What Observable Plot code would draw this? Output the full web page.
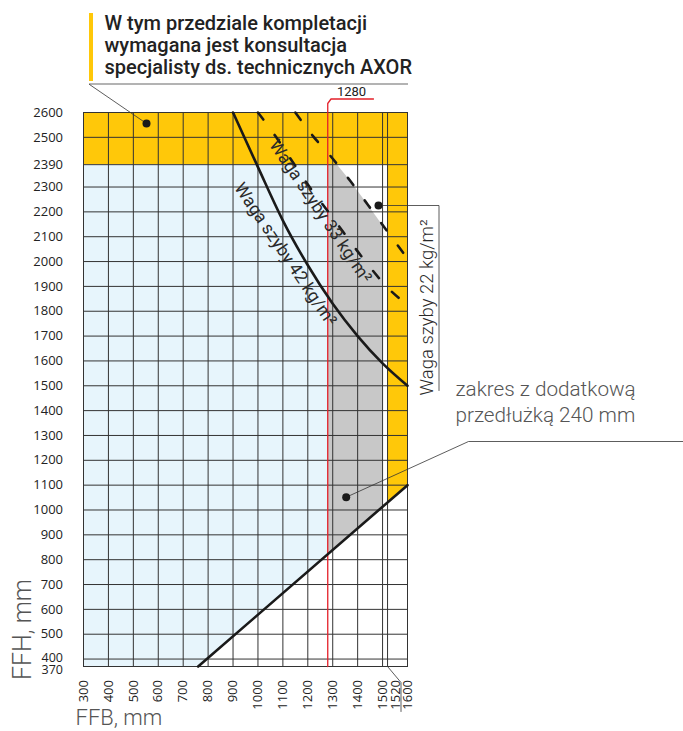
<!DOCTYPE html>
<html>
<head>
<meta charset="utf-8">
<script src="https://cdn.jsdelivr.net/npm/d3@7"></script>
<script src="https://cdn.jsdelivr.net/npm/@observablehq/plot@0.6"></script>
<style>
  body { margin: 0; background: #fff; }
  svg { overflow: visible; }
</style>
</head>
<body>
<div id="chart"></div>
<script>
// ---------- data ----------
const xDomain = [300, 1600];
const yDomain = [370, 2600];
const xTicks = [300, 400, 500, 600, 700, 800, 900, 1000, 1100, 1200, 1300, 1400, 1500, 1520, 1600];
const yTicks = [370, 400, 500, 600, 700, 800, 900, 1000, 1100, 1200, 1300, 1400, 1500, 1600, 1700, 1800, 1900, 2000, 2100, 2200, 2300, 2390, 2500, 2600];

const limitFFB = 1280;      // red line
const extFFB = 1520;        // start of right yellow column
const consultFFH = 2390;    // start of top yellow band

// solid curve, 42 kg/m2
const w42X = [900, 1000, 1100, 1200, 1300, 1400, 1500, 1600];
const w42Y = [2600, 2380, 2165, 1985, 1830, 1700, 1590, 1500];
// dashed curve, 33 kg/m2
const w33X = [1000, 1070, 1130, 1200, 1290, 1420, 1520, 1600];
const w33Y = [2600, 2505, 2415, 2310, 2190, 2015, 1895, 1825];
// dashed curve bounding the grey zone
const wBX = [1150, 1220, 1290, 1370, 1440, 1520, 1600];
const wBY = [2600, 2506, 2426, 2325, 2230, 2120, 2012];
// top edge of the grey zone
const grayTopX = [1280, 1318, 1370, 1440, 1500];
const grayTopY = [2390, 2390, 2325, 2230, 2146];
// straight lower limit line
const diagX = [760, 1600];
const diagY = [370, 1100];

const zip = (xs, ys) => xs.map((x, i) => ({x, y: ys[i]}));

// ---------- layout ----------
const W = 683, H = 731, mL = 83, mR = 276, mT = 112, mB = 65;
const sx = (W - mL - mR) / (xDomain[1] - xDomain[0]);
const sy = (H - mT - mB) / (yDomain[1] - yDomain[0]);
const px = p => xDomain[0] + (p - mL) / sx;       // pixel -> FFB (annotations only)
const py = p => yDomain[0] + (H - mB - p) / sy;   // pixel -> FFH (annotations only)

const YELLOW = "#ffc809", BLUE = "#e7f5fc", GRAY = "#c8c8c8", RED = "#e4202a", GRID = "#333";

const rects = [
  {x1: xDomain[0], x2: limitFFB, y1: yDomain[0], y2: consultFFH, fill: BLUE},
  {x1: xDomain[0], x2: xDomain[1], y1: consultFFH, y2: yDomain[1], fill: YELLOW},
  {x1: extFFB, x2: xDomain[1], y1: yDomain[0], y2: consultFFH, fill: YELLOW}
];

const redPath = [
  {x: limitFFB, y: yDomain[0]},
  {x: limitFFB, y: py(103)},
  {x: px(330.5), y: py(98.5)},
  {x: px(373), y: py(98.5)}
];

const titleLines = "W tym przedziale kompletacji\nwymagana jest konsultacja\nspecjalisty ds. technicznych AXOR";
const label22 = "Waga szyby 22 kg/m²";
const label33 = "Waga szyby 33 kg/m²";
const label42 = "Waga szyby 42 kg/m²";
const noteExt = "zakres z dodatkową\nprzedłużką 240 mm";

const xMain = xTicks.filter(d => d !== 1520);
const yMain = yTicks.filter(d => d !== 370 && d !== 400);

const chart = Plot.plot({
  width: W, height: H,
  marginLeft: mL, marginRight: mR, marginTop: mT, marginBottom: mB,
  x: {domain: xDomain, axis: null},
  y: {domain: yDomain, axis: null},
  style: {fontFamily: "'Open Sans', sans-serif", background: "#fff"},
  marks: [
    // zones
    Plot.rect(rects, {x1: "x1", x2: "x2", y1: "y1", y2: "y2", fill: "fill"}),
    Plot.areaY(zip(grayTopX, grayTopY), {x: "x", y1: yDomain[0], y2: "y", fill: GRAY}),
    Plot.areaY(zip(diagX, diagY), {x: "x", y1: yDomain[0], y2: "y", fill: "#fff"}),
    // grid
    Plot.ruleX(xTicks, {y1: yDomain[0], y2: yDomain[1], stroke: GRID, strokeWidth: 1}),
    Plot.ruleY(yTicks, {x1: xDomain[0], x2: xDomain[1], stroke: GRID, strokeWidth: 1}),
    Plot.frame({stroke: GRID, strokeWidth: 1}),
    // red limit
    Plot.line(redPath, {x: "x", y: "y", stroke: RED, strokeWidth: 1.3}),
    Plot.text(["1280"], {x: px(351), y: py(91), fontFamily: "Roboto", fontSize: 13, fill: "#222"}),
    // curves
    Plot.line(zip(w42X, w42Y), {x: "x", y: "y", stroke: "#1a1a1a", strokeWidth: 2.6, curve: "monotone-x"}),
    Plot.line(zip(w33X, w33Y), {x: "x", y: "y", stroke: "#1a1a1a", strokeWidth: 2.6, curve: "monotone-x", strokeDasharray: "9,19"}),
    Plot.line(zip(wBX, wBY), {x: "x", y: "y", stroke: "#1a1a1a", strokeWidth: 2.6, curve: "monotone-x", strokeDasharray: "9,19"}),
    Plot.line(zip(diagX, diagY), {x: "x", y: "y", stroke: "#1a1a1a", strokeWidth: 2.6}),
    // curve labels
    Plot.text([label42], {x: px(285), y: py(254), rotate: 56, fontFamily: "Roboto", fontSize: 17.5, fill: "#2a2a2a"}),
    Plot.text([label33], {x: px(320), y: py(211), rotate: 56, fontFamily: "Roboto", fontSize: 17.5, fill: "#2a2a2a"}),
    // y tick labels
    Plot.text(yMain, {x: xDomain[0], y: d => d, text: d => String(d), textAnchor: "end", dx: -20.5, fontSize: 13, fill: "#222"}),
    Plot.text([400], {x: xDomain[0], y: d => d, text: d => String(d), textAnchor: "end", dx: -20.5, dy: -1.5, fontSize: 12.5, fill: "#222"}),
    Plot.text([370], {x: xDomain[0], y: d => d, text: d => String(d), textAnchor: "end", dx: -20.5, dy: 3.5, fontSize: 12.5, fill: "#222"}),
    // x tick labels
    Plot.text(xMain, {x: d => d, y: yDomain[0], text: d => String(d), rotate: -90, textAnchor: "end", dy: 13.5, fontSize: 13, fill: "#222"}),
    Plot.text([1520], {x: d => d, y: yDomain[0], text: d => String(d), rotate: -90, textAnchor: "end", dy: 13.5, dx: 8.3, fontSize: 13, fill: "#222"}),
    Plot.line([{x: 1520, y: yDomain[0]}, {x: px(400.5), y: py(682)}, {x: px(400.5), y: py(711)}], {x: "x", y: "y", stroke: "#333", strokeWidth: 0.8}),
    // axis titles
    Plot.text(["FFH, mm"], {x: px(22), y: py(629), rotate: -90, fontFamily: "Roboto", fontWeight: 300, fontSize: 25, fill: "#555"}),
    Plot.text(["FFB, mm"], {x: px(75), y: py(717), textAnchor: "start", fontFamily: "Roboto", fontWeight: 300, fontSize: 22, fill: "#555"}),
    // title block
    Plot.rect([0], {x1: px(89), x2: px(93), y1: py(13), y2: py(81), fill: YELLOW}),
    Plot.text([titleLines], {x: px(104), y: py(14), textAnchor: "start", lineAnchor: "top", lineHeight: 1.1, fontFamily: "Roboto", fontWeight: 500, fontSize: 20, fill: "#222"}),
    Plot.ruleY([py(83.5)], {x1: px(89), x2: px(408), stroke: "#9a9a9a", strokeWidth: 1.5}),
    Plot.line([{x: px(89), y: py(84)}, {x: px(146), y: py(123)}], {x: "x", y: "y", stroke: "#333", strokeWidth: 0.8}),
    Plot.dot([0], {x: px(146), y: py(123), r: 4, fill: "#1a1a1a"}),
    // 22 kg annotation
    Plot.line([{x: px(378), y: py(205)}, {x: px(438.5), y: py(205)}, {x: px(438.5), y: py(390)}], {x: "x", y: "y", stroke: "#333", strokeWidth: 0.8}),
    Plot.dot([0], {x: px(378), y: py(205), r: 4, fill: "#1a1a1a"}),
    Plot.text([label22], {x: px(427), y: py(395), rotate: -90, textAnchor: "start", fontFamily: "Roboto", fontWeight: 300, fontSize: 18.5, fill: "#2a2a2a"}),
    // extension annotation
    Plot.line([{x: px(345.7), y: py(496.7)}, {x: px(468), y: py(441)}, {x: px(683), y: py(441)}], {x: "x", y: "y", stroke: "#333", strokeWidth: 0.8}),
    Plot.dot([0], {x: px(345.7), y: py(496.7), r: 4, fill: "#1a1a1a"}),
    Plot.text([noteExt], {x: px(455), y: py(377), textAnchor: "start", lineAnchor: "top", lineHeight: 1.25, fontFamily: "Roboto", fontWeight: 300, fontSize: 20.7, fill: "#555"})
  ]
});
document.getElementById("chart").appendChild(chart);
</script>
</body>
</html>
